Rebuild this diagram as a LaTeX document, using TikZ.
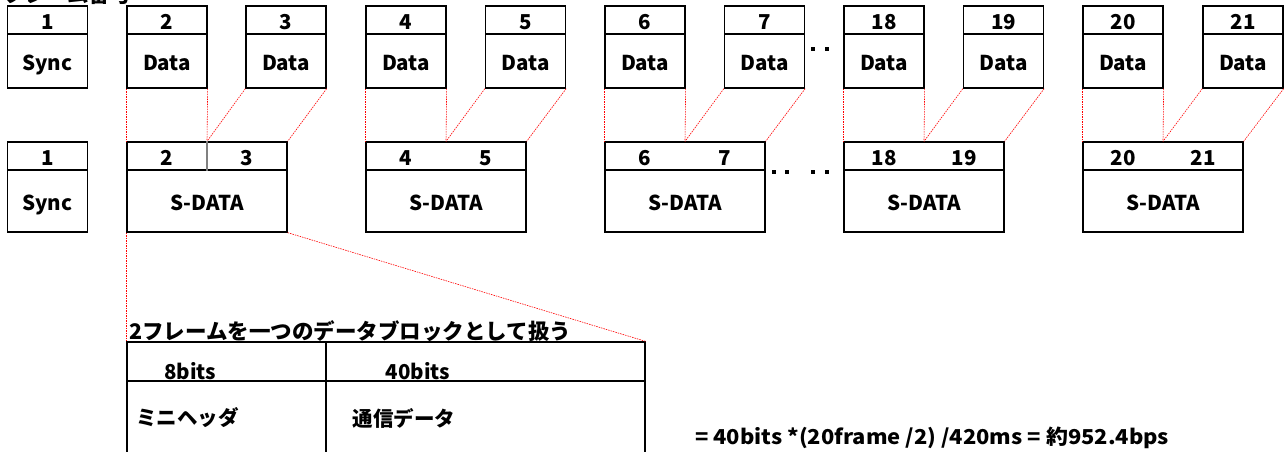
\documentclass[tikz,border=0pt]{standalone}
\usepackage{fontspec}
\setmainfont{Noto Sans CJK JP}
\begin{document}
\begin{tikzpicture}[x=1pt,y=-1pt,
  lab/.style={font=\fontsize{20.5}{22}\selectfont\bfseries, inner sep=0pt, text height=19pt, text depth=0pt},
  jlab/.style={font=\fontsize{21.5}{23}\selectfont\bfseries, inner sep=0pt},
  jlabs/.style={font=\fontsize{20.5}{22}\selectfont\bfseries, inner sep=0pt},
  hdr/.style={draw, line width=1.3pt, minimum width=80pt, minimum height=28pt, inner sep=0pt, lab},
  bdy/.style={draw, line width=1.3pt, minimum width=80pt, minimum height=54pt, inner sep=0pt, lab},
  shdr/.style={draw, line width=1.3pt, minimum width=160pt, minimum height=28pt, inner sep=0pt},
  sbdy/.style={draw, line width=1.3pt, minimum width=160pt, minimum height=62pt, inner sep=0pt, lab},
  redl/.style={red, line width=0.6pt, dash pattern=on 1.5pt off 1pt},
  cell/.style={draw, line width=1.3pt, inner sep=0pt},
  dot/.style={fill=black, minimum size=4pt, inner sep=0pt}
]
\useasboundingbox (0,0) rectangle (1287,451);
\clip (0,0) rectangle (1287,451);

% caption cut at the top
\node[jlab, anchor=west] (cap) at (3,-6) {フレーム番号};

% ---- top row frames
\foreach \n/\cx/\t in {1/47.5/Sync,2/167/Data,3/286/Data,4/406/Data,5/525.5/Data,6/645/Data,7/764.5/Data,18/884/Data,19/1003.5/Data,20/1123/Data,21/1243/Data}{
  \node[hdr] (h\n) at (\cx,20) {\n};
  \node[bdy] (d\n) at (\cx,61) {\t};
}

% ---- second row
\node[hdr] (sh1) at (47.5,156) {1};
\node[bdy, minimum height=62pt] (sb1) at (47.5,201) {Sync};

\foreach \a/\b/\cx in {2/3/207,4/5/446,6/7/685,18/19/924,20/21/1163}{
  \node[shdr] (sh\a) at (\cx,156) {};
  \node[sbdy] (sb\a) at (\cx,201) {S-DATA};
  \node[lab] (na\a) at ([xshift=-40pt]sh\a.center) {\a};
  \node[lab] (nb\a) at ([xshift=40pt]sh\a.center) {\b};
  \draw[redl] (d\a.south west) -- (sh\a.north west);
  \draw[redl] (d\a.south east) -- (sh\a.north);
  \draw[redl] (d\b.south west) -- (sh\a.north);
  \draw[redl] (d\b.south east) -- (sh\a.north east);
}
\draw[gray, line width=1.2pt] (sh2.north) -- (sh2.south);

% dots
\node[dot] (p1) at (813,49) {};
\node[dot] (p2) at (827,49) {};
\node[dot] (q1) at (774,172) {};
\node[dot] (q2) at (787,172) {};
\node[dot] (q3) at (813,172) {};
\node[dot] (q4) at (827,172) {};

% ---- bottom table
\node[cell, minimum width=199pt, minimum height=39pt] (th1) at (226.5,361.5) {};
\node[cell, minimum width=319pt, minimum height=39pt] (th2) at (485.5,361.5) {};
\node[cell, minimum width=199pt, minimum height=118pt] (tb1) at (226.5,440) {};
\node[cell, minimum width=319pt, minimum height=118pt] (tb2) at (485.5,440) {};

\draw[redl] (sb2.south west) -- (th1.north west);
\draw[redl] (sb2.south east) -- (th2.north east);

\node[jlab, anchor=west] (title) at (129,331) {2フレームを一つのデータブロックとして扱う};
\node[lab] (b8) at (190,370) {8bits};
\node[lab] (b40) at (418,370) {40bits};
\node[jlabs, anchor=west] (mh) at (136,418) {ミニヘッダ};
\node[jlabs] (td) at (404,418) {通信データ};
\node[lab, anchor=west] (fm) at (695,435) {\scalebox{1.07}[1]{= 40bits *(20frame /2) /420ms = 約952.4bps}};
\end{tikzpicture}
\end{document}
